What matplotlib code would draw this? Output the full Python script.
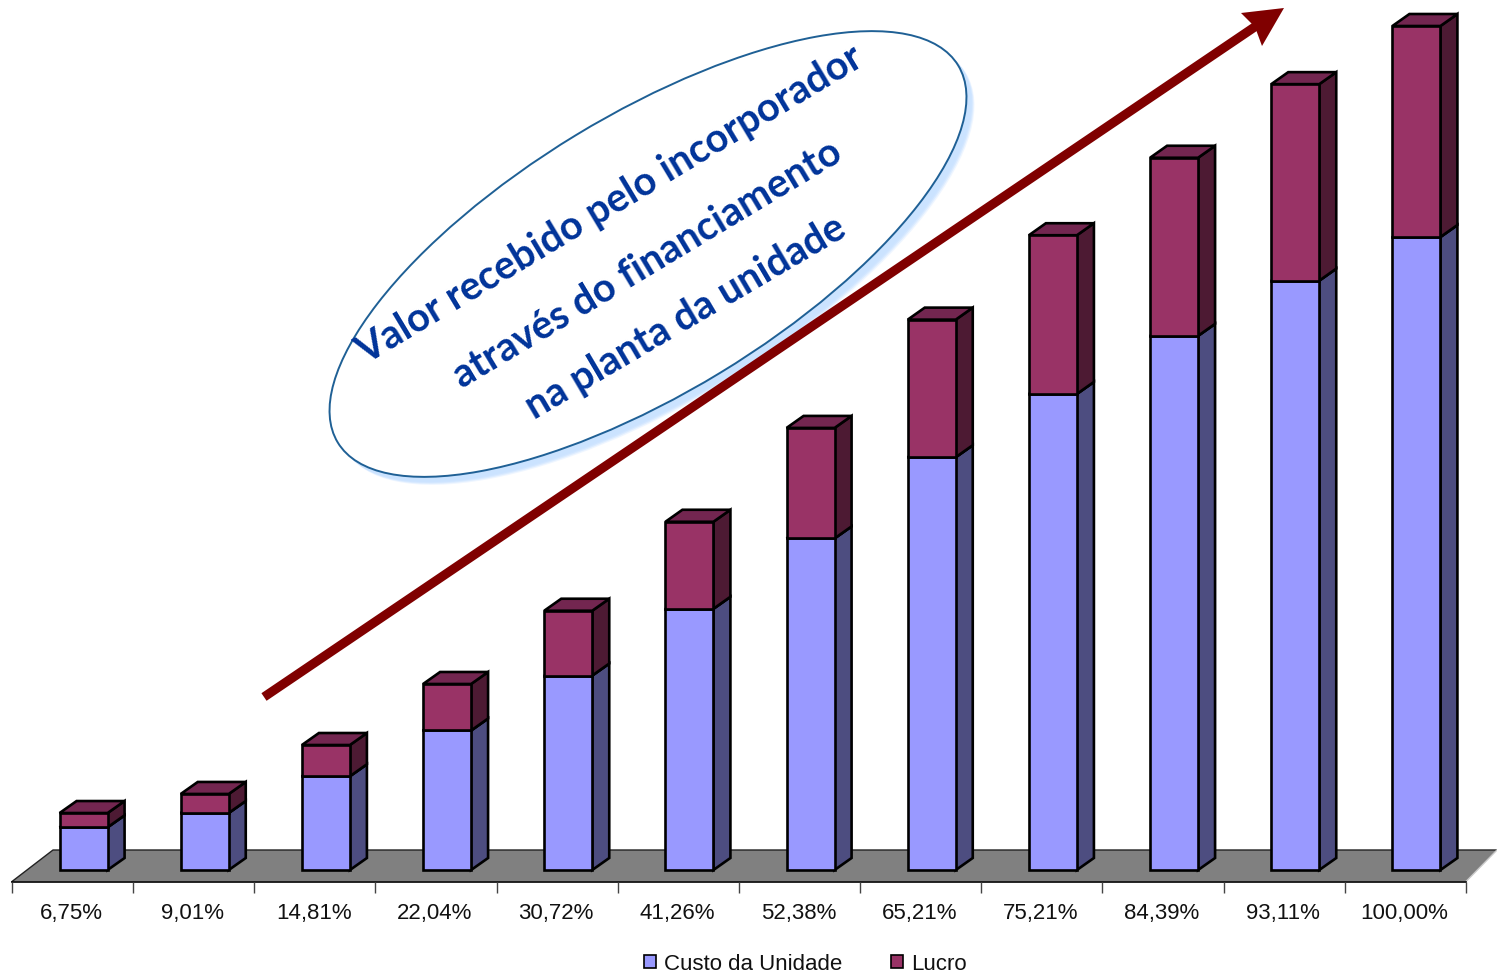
import matplotlib
matplotlib.use("Agg")
import matplotlib.pyplot as plt
from matplotlib.patches import Ellipse, Polygon, Patch

plt.rcParams['font.family'] = ['Liberation Sans', 'DejaVu Sans']

# Chart data
categories = ["6,75%", "9,01%", "14,81%", "22,04%", "30,72%", "41,26%",
              "52,38%", "65,21%", "75,21%", "84,39%", "93,11%", "100,00%"]
custo = [5.06, 6.76, 11.11, 16.53, 23.04, 30.95, 39.29, 48.91, 56.41, 63.29, 69.83, 75.00]
lucro = [1.69, 2.25, 3.70, 5.51, 7.68, 10.31, 13.09, 16.30, 18.80, 21.10, 23.28, 25.00]
series_names = ["Custo da Unidade", "Lucro"]
callout_lines = ["Valor recebido pelo incorporador",
                 "através do financiamento",
                 "na planta da unidade"]

W, H = 1497, 973
PX_X = 1454 / 12      # pixels per category
PX_Y = 8.44           # pixels per percentage point
DX = 17 / PX_X        # depth of the 3D boxes, in data units
DY = 12 / PX_Y
BAR_W = 48 / PX_X
BAR_SHIFT = 11 / PX_X
EDGE = 1.9

fig = plt.figure(figsize=(W / 100, H / 100), dpi=100, facecolor='white')
ax = fig.add_axes([12 / W, (H - 881.5) / H, 1454 / W, 881.5 / H])
ax.set_xlim(-0.5, 11.5)
ax.set_ylim(-11.5 / PX_Y, 870 / PX_Y)
ax.patch.set_visible(False)
for name in ('top', 'left', 'right'):
    ax.spines[name].set_visible(False)
ax.spines['bottom'].set_linewidth(1.2)
ax.spines['bottom'].set_zorder(1)
ax.yaxis.set_visible(False)

# Floor of the 3D plot
floor_back = 20 / PX_Y
floor_front = -11.5 / PX_Y
ax.add_patch(Polygon([(-0.5, floor_front), (-0.5 + 41 / PX_X, floor_back),
                      (11.5 + 31 / PX_X, floor_back), (11.5, floor_front)],
                     closed=True, facecolor='#808080', edgecolor='none',
                     clip_on=False, zorder=0))
ax.plot([-0.5, -0.5 + 41 / PX_X, 11.5 + 31 / PX_X], [floor_front, floor_back, floor_back],
        color='#222222', lw=1.0, clip_on=False, zorder=0.5)
ax.plot([11.5, 11.5 + 31 / PX_X], [floor_front, floor_back],
        color='#c8c8c8', lw=1.0, clip_on=False, zorder=0.5)


def box(x, y0, h, front, side, top):
    """Front face through ax.bar, side and top faces as parallelograms."""
    left = x - BAR_W / 2
    right = x + BAR_W / 2
    y1 = y0 + h
    ax.add_patch(Polygon([(right, y0), (right + DX, y0 + DY), (right + DX, y1 + DY), (right, y1)],
                         closed=True, facecolor=side, edgecolor='black', linewidth=EDGE,
                         joinstyle='miter', zorder=2))
    ax.add_patch(Polygon([(left, y1), (left + DX, y1 + DY), (right + DX, y1 + DY), (right, y1)],
                         closed=True, facecolor=top, edgecolor='black', linewidth=EDGE,
                         joinstyle='miter', zorder=2))
    ax.bar(x, h, BAR_W, bottom=y0, color=front, edgecolor='black', linewidth=EDGE, zorder=3)


for i, (c, l) in enumerate(zip(custo, lucro)):
    x = i + BAR_SHIFT
    box(x, 0, c, '#9999FF', '#4D4D80', '#737399')
    box(x, c, l, '#993366', '#4D1A33', '#732650')

# Category axis: ticks on the boundaries, labels centred between them
ax.set_xticks([i - 0.5 for i in range(13)])
ax.set_xticklabels([])
ax.set_xticks([i - 0.01 for i in range(12)], minor=True)
ax.set_xticklabels(categories, minor=True, fontsize=16, color='#111111')
ax.tick_params(axis='x', which='major', length=8, width=1.0, color='#444444')
ax.tick_params(axis='x', which='minor', length=0, pad=15.5)

# Legend
handles = [Patch(facecolor='#9999FF', edgecolor='black', lw=1.2),
           Patch(facecolor='#993366', edgecolor='black', lw=1.2)]
fig.legend(handles, series_names, loc='center', bbox_to_anchor=(805.5 / W, (H - 964) / H),
           ncol=2, frameon=False, fontsize=16, handlelength=0.55, handleheight=0.55,
           handletextpad=0.35, columnspacing=2.2, borderpad=0, labelcolor='#111111')

# Annotation layer in pixel coordinates
over = fig.add_axes([0, 0, 1, 1])
over.set_xlim(0, W)
over.set_ylim(H, 0)
over.axis('off')

# Callout ellipse with a soft offset shadow
for off, alpha in ((8, 0.3), (7, 0.5), (6, 0.7), (5, 0.9), (4, 1.0)):
    over.add_patch(Ellipse((648 + off, 254 + off), 726, 278, angle=-31.3,
                           facecolor='#CBE3FF', edgecolor='none', alpha=alpha, zorder=3))

# Growth arrow
over.plot([264, 1262], [697, 22], color='#800000', lw=6.6, solid_capstyle='butt', zorder=4)
over.add_patch(Polygon([(1284, 8), (1241, 13), (1255, 27), (1262, 46)], closed=True,
                       facecolor='#800000', edgecolor='none', zorder=4))

over.add_patch(Ellipse((648, 254), 726, 278, angle=-31.3, facecolor='white',
                       edgecolor='#1F6095', lw=1.4, zorder=6))

for line, (cx, cy), rot in zip(callout_lines,
                               [(610, 205), (647, 264), (686, 318)],
                               [31, 31, 30.5]):
    over.text(cx, cy, line, rotation=rot, rotation_mode='anchor', ha='center', va='center',
              family='Lato', fontweight='bold', fontsize=28.5, color='#003399', zorder=7)

fig.savefig('out.png', dpi=100, facecolor='white')
